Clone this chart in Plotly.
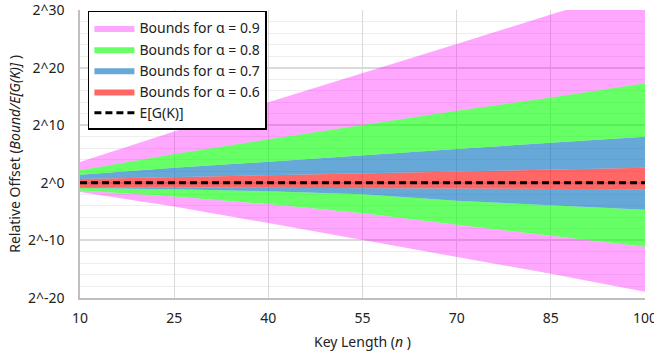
import plotly.graph_objects as go

# Key length n
n = [10, 25, 40, 55, 70, 85, 100]

# log2 of (Bound / E[G(K)])
a09_upper = [3.6, 8.9, 14.0, 19.0, 24.1, 29.2, 34.3]
a09_lower = [-1.6, -4.1, -7.0, -9.9, -12.9, -15.8, -18.9]
a08_upper = [2.2, 5.0, 7.55, 10.0, 12.5, 14.8, 17.3]
a08_lower = [-1.35, -2.4, -3.7, -5.3, -7.3, -9.2, -11.1]
a07_upper = [1.4, 2.6, 3.66, 4.7, 5.87, 6.96, 8.0]
a07_lower = [-0.9, -1.1, -1.45, -2.0, -3.1, -3.85, -4.7]
a06_upper = [0.66, 1.0, 1.3, 1.6, 1.95, 2.3, 2.6]
a06_lower = [-0.75, -0.8, -0.88, -0.95, -1.02, -1.08, -1.13]
expected = [0, 0, 0, 0, 0, 0, 0]

y_ticks = [-20, -10, 0, 10, 20, 30]
y_ticktext = ["2^-20", "2^-10", "2^0", "2^10", "2^20", "2^30"]
x_ticks = [10, 25, 40, 55, 70, 85, 100]

PINK = "rgba(255,0,255,0.35)"
GREEN = "rgba(0,255,0,0.6)"
BLUE = "rgba(0,110,190,0.6)"
RED = "rgba(255,0,0,0.6)"

fig = go.Figure()

def band(y, color, name=None, show=False, rank=None, first=False):
    kw = dict(x=n, y=y, mode="lines", line=dict(width=0, color=color),
              hoverinfo="skip", showlegend=show)
    if not first:
        kw["fill"] = "tonexty"
        kw["fillcolor"] = color
    if name:
        kw["name"] = name
    if rank:
        kw["legendrank"] = rank
    fig.add_trace(go.Scatter(**kw))

band(a09_lower, PINK, first=True)
band(a08_lower, PINK)
band(a07_lower, GREEN)
band(a06_lower, BLUE)
band(a06_upper, RED, "Bounds for α = 0.6", True, 4)
band(a07_upper, BLUE, "Bounds for α = 0.7", True, 3)
band(a08_upper, GREEN, "Bounds for α = 0.8", True, 2)
band(a09_upper, PINK, "Bounds for α = 0.9", True, 1)

fig.add_trace(go.Scatter(x=n, y=expected, mode="lines", name="E[G(K)]",
                         line=dict(color="black", width=3, dash="7px,4px"),
                         legendrank=5))

font = "Noto Sans"
fig.update_layout(
    width=654, height=351,
    margin=dict(l=80, r=9, t=10, b=53),
    plot_bgcolor="white", paper_bgcolor="white",
    font=dict(family=font, size=14, color="#222"),
    showlegend=True,
    legend=dict(x=0.014, y=0.997, xanchor="left", yanchor="top",
                bgcolor="white", bordercolor="black", borderwidth=1.5,
                font=dict(size=14, color="#222"), itemwidth=40,
                traceorder="normal"),
    xaxis=dict(range=[10, 100], tickvals=x_ticks, showgrid=True,
               gridcolor="#d9d9d9", gridwidth=1, zeroline=False,
               showline=True, linecolor="#bfbfbf", linewidth=1.5,
               ticks="", tickfont=dict(size=14), automargin=False,
               ticklabeloverflow="allow", ticklabelstandoff=6,
               title=dict(text="Key Length (<i>n</i> )", font=dict(size=14), standoff=12)),
    yaxis=dict(range=[-20, 30], tickvals=y_ticks, ticktext=y_ticktext,
               showgrid=True, gridcolor="#d9d9d9", gridwidth=1.5, zeroline=False,
               showline=True, linecolor="#bfbfbf", linewidth=1.5,
               ticks="", tickfont=dict(size=14), automargin=False,
               ticklabeloverflow="allow", ticklabelstandoff=11,
               minor=dict(dtick=2, tick0=0, showgrid=True, gridcolor="#eeeeee", gridwidth=1),
               title=dict(text="Relative Offset (<i>Bound/E[G(K)]</i> )", font=dict(size=14), standoff=4)),
)

fig.write_html("out.html", config={"displayModeBar": False},
               post_script="document.body.style.margin='0';")
